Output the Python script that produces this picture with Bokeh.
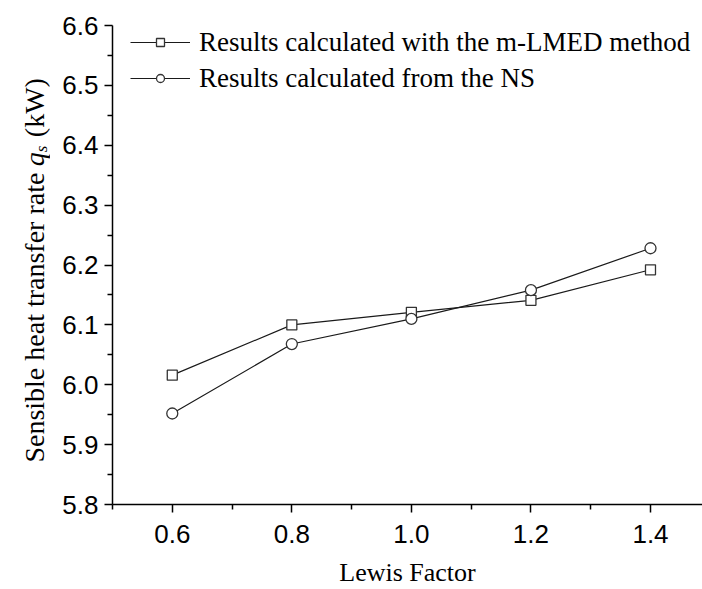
import math
from bokeh.plotting import figure
from bokeh.layouts import row
from bokeh.models import FixedTicker, PrintfTickFormatter, Legend, LegendItem, Range1d
from bokeh.core.properties import value
from bokeh.embed import file_html
from bokeh.resources import INLINE

# ---- data ----
lewis = [0.6, 0.8, 1.0, 1.2, 1.4]
q_mlmed = [6.016, 6.100, 6.121, 6.141, 6.192]
q_ns = [5.952, 6.068, 6.110, 6.158, 6.228]
x_ticks = [0.6, 0.8, 1.0, 1.2, 1.4]
x_minor = [0.5, 0.7, 0.9, 1.1, 1.3]
y_ticks = [5.8, 5.9, 6.0, 6.1, 6.2, 6.3, 6.4, 6.5, 6.6]
y_minor = [5.85, 5.95, 6.05, 6.15, 6.25, 6.35, 6.45, 6.55]
label_mlmed = "Results calculated with the m-LMED method"
label_ns = "Results calculated from the NS"
x_label = "Lewis Factor"
y_label_parts = ["Sensible heat transfer rate", "q", "s", "(kW)"]

SERIF = "Liberation Serif"
SANS = "Liberation Sans"
W, H = 702, 589
LW = 50            # width of the strip holding the y-axis title
TOP, BOTTOM = 25, 84

# ---- y-axis title strip (real text, rotated) ----
# Its frame is aligned with the main plot's frame (screen y 25..505),
# so data y = H - screen_y.
lab = figure(width=LW, height=H, output_backend="svg", toolbar_location=None,
             x_range=Range1d(0, LW), y_range=Range1d(BOTTOM, H - TOP),
             x_axis_location=None, y_axis_location=None,
             min_border_left=0, min_border_right=0,
             min_border_top=TOP, min_border_bottom=BOTTOM)
lab.outline_line_color = None
lab.grid.visible = False

fs = 28
xb = 34                 # baseline position (px)
y0 = H - 463            # start of the text (screen y 463)
w_main = (10.36 + 0.25) * fs
w_q = 0.5 * fs
w_s = 0.389 * 17
xs = [xb, xb, xb + 7, xb]
ys = [y0, y0 + w_main, y0 + w_main + w_q, y0 + w_main + w_q + w_s + 0.3 * fs]
sizes = [f"{fs}px", f"{fs}px", "17px", f"{fs}px"]
styles = ["normal", "italic", "italic", "normal"]
for t, x, y, sz, st in zip(y_label_parts, xs, ys, sizes, styles):
    lab.text(x=[x], y=[y], text=[t], angle=math.pi / 2,
             text_font=value(SERIF), text_font_size=sz, text_font_style=st,
             text_color="black", text_align="left", text_baseline="alphabetic")

# ---- main plot ----
p = figure(width=W - LW, height=H, output_backend="svg", toolbar_location=None,
           x_range=Range1d(0.5, 1.487), y_range=Range1d(5.8, 6.6),
           min_border_left=112 - LW, min_border_right=0, min_border_top=TOP,
           min_border_bottom=BOTTOM)
p.outline_line_color = None
p.grid.visible = False

for ax in (p.xaxis[0], p.yaxis[0]):
    ax.axis_line_color = "black"
    ax.axis_line_width = 1.5
    ax.major_tick_line_color = "black"
    ax.minor_tick_line_color = "black"
    ax.major_tick_line_width = 1.5
    ax.minor_tick_line_width = 1.5
    ax.major_tick_out = 8
    ax.major_tick_in = 0
    ax.minor_tick_out = 5
    ax.minor_tick_in = 0
    ax.major_label_text_font = SANS
    ax.major_label_text_font_size = "26px"
    ax.major_label_text_color = "black"
    ax.formatter = PrintfTickFormatter(format="%.1f")

p.xaxis[0].ticker = FixedTicker(ticks=x_ticks, minor_ticks=x_minor)
p.yaxis[0].ticker = FixedTicker(ticks=y_ticks, minor_ticks=y_minor)
p.xaxis[0].major_label_standoff = 12
p.yaxis[0].major_label_standoff = 6

p.xaxis[0].axis_label = x_label
p.xaxis[0].axis_label_text_font = SERIF
p.xaxis[0].axis_label_text_font_size = "26px"
p.xaxis[0].axis_label_text_font_style = "normal"
p.xaxis[0].axis_label_text_color = "black"
p.xaxis[0].axis_label_standoff = 12

# series
l1 = p.line(lewis, q_mlmed, line_color="#1a1a1a", line_width=1.2)
s1 = p.scatter(lewis, q_mlmed, marker="square", size=10, line_color="#333333",
               fill_color="white", line_width=1.3)
l2 = p.line(lewis, q_ns, line_color="#1a1a1a", line_width=1.2)
s2 = p.scatter(lewis, q_ns, marker="circle", size=11, line_color="#333333",
               fill_color="white", line_width=1.3)

legend = Legend(items=[LegendItem(label=label_mlmed, renderers=[l1, s1]),
                       LegendItem(label=label_ns, renderers=[l2, s2])],
                location=(18, 408), orientation="vertical")
legend.label_text_font = SERIF
legend.label_text_font_size = "27px"
legend.label_text_color = "black"
legend.glyph_width = 60
legend.glyph_height = 20
legend.label_height = 36
legend.label_standoff = 9
legend.spacing = 0
legend.padding = 0
legend.margin = 0
legend.border_line_alpha = 0
legend.background_fill_alpha = 0
p.add_layout(legend, "center")

layout = row(lab, p, spacing=0)
open("out.html", "w").write(file_html(layout, INLINE))
